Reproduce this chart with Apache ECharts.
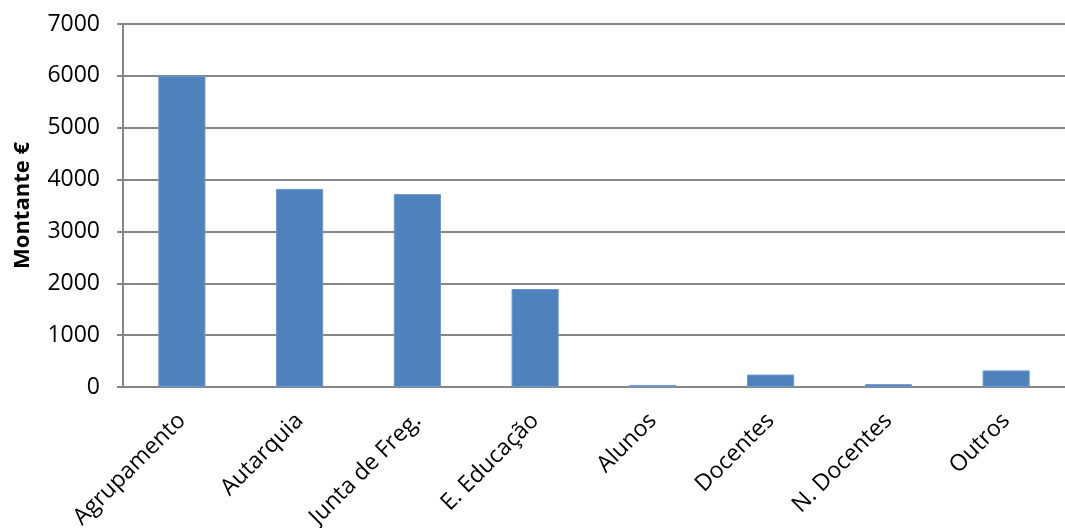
<!DOCTYPE html>
<html><head><meta charset="utf-8">
<script src="https://cdn.jsdelivr.net/npm/echarts@6/dist/echarts.min.js"></script>
<style>html,body{margin:0;padding:0;background:#fff}#c{width:1065px;height:528px}</style>
</head><body><div id="c"></div>
<script>
var categories = ['Agrupamento','Autarquia','Junta de Freg.','E. Educação','Alunos','Docentes','N. Docentes','Outros'];
var values = [6000, 3820, 3720, 1890, 40, 240, 55, 320];
var yTicks = {min: 0, max: 7000, interval: 1000};
var yName = 'Montante €';

var chart = echarts.init(document.getElementById('c'));
chart.setOption({
  animation: false,
  grid: {left: 123, right: 0, top: 24, bottom: 141, containLabel: false, outerBoundsMode: 'none'},
  xAxis: {
    type: 'category', data: categories,
    axisLine: {lineStyle: {color: '#868686', width: 2}},
    axisTick: {show: false},
    axisLabel: {rotate: 45, margin: 30, fontFamily: 'Open Sans', fontSize: 23, color: '#000', interval: 0}
  },
  yAxis: {
    type: 'value', min: yTicks.min, max: yTicks.max, interval: yTicks.interval,
    name: yName, nameLocation: 'middle', nameGap: 89,
    nameTextStyle: {fontFamily: 'Open Sans', fontWeight: 'bold', fontSize: 22, color: '#000'},
    axisLine: {show: true, lineStyle: {color: '#868686', width: 2}},
    axisTick: {show: true, length: 6, inside: false, lineStyle: {color: '#868686', width: 2}},
    splitLine: {lineStyle: {color: '#868686', width: 2}},
    axisLabel: {fontFamily: 'Open Sans', fontSize: 23, color: '#000', margin: 23,
      formatter: function (v) { return String(v); }}
  },
  series: [{
    type: 'bar', data: values, barWidth: '40%',
    itemStyle: {color: '#4F81BD', borderColor: '#6f98cc', borderWidth: 1}
  }]
});
</script></body></html>
